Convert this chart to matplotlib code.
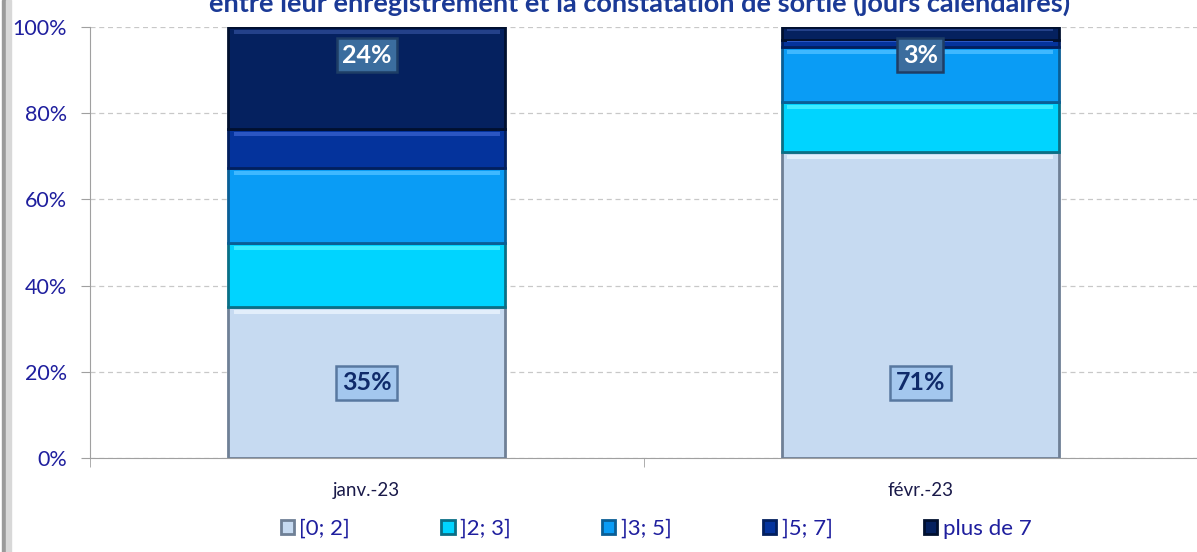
import matplotlib
matplotlib.use("Agg")
import matplotlib.pyplot as plt
from matplotlib.patches import Rectangle
import numpy as np

categories = ["janv.-23", "févr.-23"]
series_names = ["[0; 2]", "]2; 3]", "]3; 5]", "]5; 7]", "plus de 7"]
v_0_2 = [35.0, 71.0]
v_2_3 = [14.9, 11.6]
v_3_5 = [17.4, 12.8]
v_5_7 = [9.0, 1.6]
v_plus7 = [23.7, 3.0]
label_first = ["35%", "71%"]
label_last = ["24%", "3%"]
yticks = [0, 20, 40, 60, 80, 100]
title = "entre leur enregistrement et la constatation de sortie (jours calendaires)"

series = [v_0_2, v_2_3, v_3_5, v_5_7, v_plus7]
colors = ["#C6DAF1", "#00D4FF", "#0A9CF5", "#04339C", "#05215F"]
edges = ["#6F8096", "#0A6F86", "#0A5E95", "#021F5E", "#01102F"]
highlights = ["#E2EEFB", "#3DEBFF", "#3FB8FF", "#2B56C2", "#24418A"]

plt.rcParams['font.family'] = ['Lato', 'DejaVu Sans']
fig = plt.figure(figsize=(11.97, 5.52), dpi=100)
W, H = 1197, 552
ax = fig.add_axes([90 / W, (552 - 458) / H, (1197 - 90) / W, 431 / H])

x = np.arange(len(categories))
bw = 0.5
bottom = np.zeros(len(categories))
for vals, c, ec, hc, name in zip(series, colors, edges, highlights, series_names):
    vals = np.array(vals)
    ax.bar(x, vals, bw, bottom=bottom, color=c, edgecolor=ec, linewidth=2.0,
           label=name, zorder=3)
    # bevel highlight near top of each segment
    hh = np.minimum(vals * 0.18, 0.9)
    ax.bar(x, hh, bw * 0.96, bottom=bottom + vals - hh * 1.8, color=hc,
           linewidth=0, zorder=4)
    bottom += vals

ax.set_xlim(-0.5, 1.480)
ax.set_ylim(0, 100)
ax.set_yticks(yticks)
ax.set_yticklabels([f"{t}%" for t in yticks], color="#1F1F9E", fontsize=15.5)
ax.tick_params(axis='y', length=6.5, color="#A0A0A0", direction='out', pad=10)
ax.set_xticks(x)
ax.set_xticklabels(categories, fontsize=13.5, color="#1A1A4A")
ax.tick_params(axis='x', which='major', length=0, pad=17)
ax.set_xticks([-0.5, 0.5, 1.5], minor=True)
ax.tick_params(axis='x', which='minor', length=6.5, color="#A0A0A0", direction='out')
for s in ["top", "right"]:
    ax.spines[s].set_visible(False)
for s in ["left", "bottom"]:
    ax.spines[s].set_color("#A0A0A0")
ax.yaxis.grid(True, linestyle=(0, (4, 3)), color="#C8C8C8", linewidth=0.9, zorder=0)
ax.set_axisbelow(True)

# data labels
for i in range(len(categories)):
    ax.text(x[i], 17.5, label_first[i], ha='center', va='center', fontsize=18,
            fontweight='bold', color="#0F2A6A", zorder=6,
            bbox=dict(boxstyle="square,pad=0.22", fc="#A4C7EE", ec="#5878A0", lw=1.8))
    ax.text(x[i], 93.5, label_last[i], ha='center', va='center', fontsize=18,
            fontweight='bold', color="white", zorder=6,
            bbox=dict(boxstyle="square,pad=0.22", fc="#3B6D9E", ec="#1E3E66", lw=1.8))

# title (cut off at top, as in the source)
fig.text(640 / W, 1 - 12 / H, title, ha='center', va='baseline', fontsize=19.5,
         fontweight='bold', color="#1B3A96")

# legend
leg = fig.legend(loc='lower center', bbox_to_anchor=(0.548, -0.012), ncol=5, frameon=False,
                 fontsize=16, columnspacing=4.1, handlelength=0.6, handleheight=0.6,
                 handletextpad=0.25)
for t in leg.get_texts():
    t.set_color("#1F1F9E")

# left frame border
fig.patches.append(Rectangle((2 / W, 0), 4 / W, 1, transform=fig.transFigure,
                             color="#9A9A9A", zorder=0))
fig.patches.append(Rectangle((6 / W, 0), 5 / W, 1, transform=fig.transFigure,
                             color="#D8D8D8", zorder=0))

fig.savefig("out.png", dpi=100)
